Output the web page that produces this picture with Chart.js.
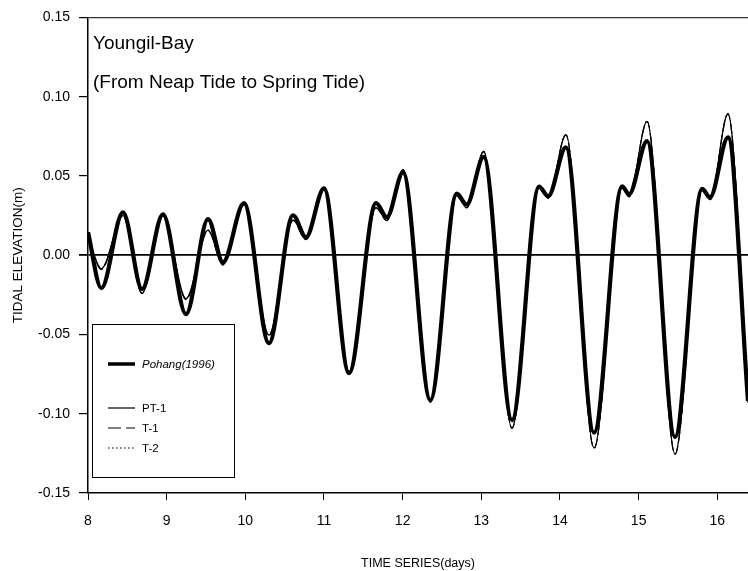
<!DOCTYPE html>
<html>
<head>
<meta charset="utf-8">
<script src="https://cdn.jsdelivr.net/npm/chart.js@4.4.1/dist/chart.umd.min.js"></script>
<style>
  html, body { margin: 0; padding: 0; background: #fff; }
  #wrap { width: 748px; height: 571px; position: relative; }
</style>
</head>
<body>
<div id="wrap"><canvas id="c" width="748" height="571"></canvas></div>
<script>
// Times (days) of the turning points
const days = [8.00, 8.17, 8.445, 8.687, 8.953, 9.246, 9.526, 9.716, 9.983, 10.30,
  10.606, 10.771, 11.00, 11.318, 11.661, 11.80, 12.005, 12.352, 12.687, 12.814,
  13.03, 13.39, 13.733, 13.85, 14.075, 14.433, 14.789, 14.878, 15.107, 15.462,
  15.806, 15.907, 16.136, 16.39];
// Observed (Pohang 1996) tidal elevation, m
const pohang = [0.0145, -0.0208, 0.0271, -0.0214, 0.0258, -0.0372, 0.0227, -0.0044, 0.0328, -0.0555,
  0.0252, 0.0113, 0.0422, -0.0744, 0.0328, 0.0240, 0.0523, -0.0914, 0.0389, 0.0320,
  0.0620, -0.1040, 0.0432, 0.0372, 0.0680, -0.1120, 0.0435, 0.0384, 0.0720, -0.1147,
  0.0418, 0.0366, 0.0743, -0.0920];
// Model results
const pt1 = [0.0120, -0.0085, 0.0250, -0.0240, 0.0250, -0.0275, 0.0158, -0.0060, 0.0320, -0.0505,
  0.0222, 0.0100, 0.0415, -0.0735, 0.0300, 0.0220, 0.0540, -0.0925, 0.0375, 0.0300,
  0.0655, -0.1090, 0.0425, 0.0360, 0.0760, -0.1216, 0.0425, 0.0370, 0.0845, -0.1254,
  0.0410, 0.0350, 0.0893, -0.0930];
const t1 = [0.0118, -0.0090, 0.0248, -0.0242, 0.0248, -0.0280, 0.0155, -0.0062, 0.0318, -0.0508,
  0.0220, 0.0098, 0.0413, -0.0738, 0.0298, 0.0218, 0.0538, -0.0928, 0.0373, 0.0298,
  0.0652, -0.1093, 0.0423, 0.0358, 0.0757, -0.1219, 0.0423, 0.0368, 0.0842, -0.1257,
  0.0408, 0.0348, 0.0890, -0.0932];
const t2 = [0.0122, -0.0080, 0.0252, -0.0238, 0.0252, -0.0270, 0.0160, -0.0058, 0.0322, -0.0500,
  0.0224, 0.0102, 0.0417, -0.0732, 0.0302, 0.0222, 0.0542, -0.0922, 0.0377, 0.0302,
  0.0658, -0.1087, 0.0427, 0.0362, 0.0763, -0.1213, 0.0427, 0.0372, 0.0848, -0.1251,
  0.0412, 0.0352, 0.0896, -0.0928];
const seriesNames = ['Pohang(1996)', 'PT-1', 'T-1', 'T-2'];
const xTickLabels = ['8', '9', '10', '11', '12', '13', '14', '15', '16'];
const yTickLabels = ['-0.15', '-0.10', '-0.05', '0.00', '0.05', '0.10', '0.15'];
const titleLines = ['Youngil-Bay', '(From Neap Tide to Spring Tide)'];
const xTitle = 'TIME SERIES(days)';
const yTitle = 'TIDAL ELEVATION(m)';

const pts = arr => days.map((d, i) => ({ x: d, y: arr[i] }));
const FONT = "'Liberation Sans', Arial, sans-serif";

const overlay = {
  id: 'overlay',
  afterDraw(chart) {
    const ctx = chart.ctx;
    ctx.save();
    ctx.fillStyle = '#000';
    ctx.textBaseline = 'alphabetic';
    ctx.textAlign = 'left';
    ctx.font = '19px ' + FONT;
    ctx.fillText(titleLines[0], 93, 49);
    ctx.fillText(titleLines[1], 93, 88);

    // legend box
    const bx = 92, by = 324, bw = 142, bh = 153;
    ctx.fillStyle = '#fff';
    ctx.fillRect(bx, by, bw, bh);
    ctx.strokeStyle = '#000';
    ctx.lineWidth = 1;
    ctx.strokeRect(bx + 0.5, by + 0.5, bw, bh);
    const rows = [
      { y: 364, w: 3.5, dash: [], font: 'italic 11.5px ' + FONT },
      { y: 408, w: 1.2, dash: [], font: '11.5px ' + FONT },
      { y: 428, w: 1.2, dash: [13, 5], font: '11.5px ' + FONT },
      { y: 448, w: 1, dash: [1.5, 2.5], font: '11.5px ' + FONT }
    ];
    rows.forEach((r, i) => {
      ctx.beginPath();
      ctx.setLineDash(r.dash);
      ctx.lineWidth = r.w;
      ctx.moveTo(108, r.y);
      ctx.lineTo(135, r.y);
      ctx.stroke();
      ctx.setLineDash([]);
      ctx.font = r.font;
      ctx.fillStyle = '#000';
      ctx.textBaseline = 'middle';
      ctx.fillText(seriesNames[i], 142, r.y + 1);
    });
    ctx.restore();
  }
};

new Chart(document.getElementById('c'), {
  type: 'line',
  data: {
    datasets: [
      { label: seriesNames[0], data: pts(pohang), borderColor: '#000', borderWidth: 4.2, order: 0 },
      { label: seriesNames[1], data: pts(pt1), borderColor: '#000', borderWidth: 1.2, order: 1 },
      { label: seriesNames[2], data: pts(t1), borderColor: '#000', borderWidth: 1.2, borderDash: [10, 4], order: 2 },
      { label: seriesNames[3], data: pts(t2), borderColor: '#000', borderWidth: 1, borderDash: [1.5, 2.5], order: 3 }
    ]
  },
  options: {
    responsive: false,
    animation: false,
    elements: { point: { radius: 0 }, line: { cubicInterpolationMode: 'monotone', fill: false } },
    layout: { padding: { top: 17, right: 0, bottom: 0, left: 0 } },
    plugins: { legend: { display: false }, tooltip: { enabled: false } },
    scales: {
      x: {
        type: 'linear',
        min: 8, max: 16.39,
        afterFit(s) { s.height = 78; },
        border: { display: true, color: '#000', width: 1.5 },
        grid: { drawOnChartArea: false, drawTicks: true, tickLength: 7, tickColor: '#000', tickWidth: 1 },
        ticks: {
          stepSize: 1, includeBounds: false, color: '#000', padding: 13,
          font: { family: FONT, size: 14 },
          callback: (v) => { const i = Math.round(v) - 8; return xTickLabels[i] !== undefined && Math.abs(v - Math.round(v)) < 1e-6 ? xTickLabels[i] : ''; }
        },
        title: { display: true, text: xTitle, color: '#000', font: { family: FONT, size: 12.5 }, padding: { top: 0, bottom: 0 } }
      },
      y: {
        type: 'linear',
        min: -0.15, max: 0.15,
        afterFit(s) { s.width = 88; },
        border: { display: true, color: '#000', width: 1.5 },
        grid: {
          drawTicks: true, tickLength: 9, tickColor: '#000',
          color: (c) => { const v = c.tick ? c.tick.value : null; if (v === null) return 'rgba(0,0,0,0)'; if (Math.abs(v) < 1e-9) return '#000'; if (Math.abs(v - 0.15) < 1e-9) return '#333'; return 'rgba(0,0,0,0)'; },
          lineWidth: (c) => { const v = c.tick ? c.tick.value : 1; return Math.abs(v) < 1e-9 ? 1.8 : 1.2; }
        },
        ticks: {
          stepSize: 0.05, color: '#000', padding: 9,
          font: { family: FONT, size: 14 },
          callback: (v) => { const i = Math.round((v + 0.15) / 0.05); return yTickLabels[i]; }
        },
        title: { display: true, text: yTitle, color: '#000', font: { family: FONT, size: 13.5 }, padding: { top: 10, bottom: 0 } }
      }
    }
  },
  plugins: [overlay]
});
</script>
</body>
</html>
